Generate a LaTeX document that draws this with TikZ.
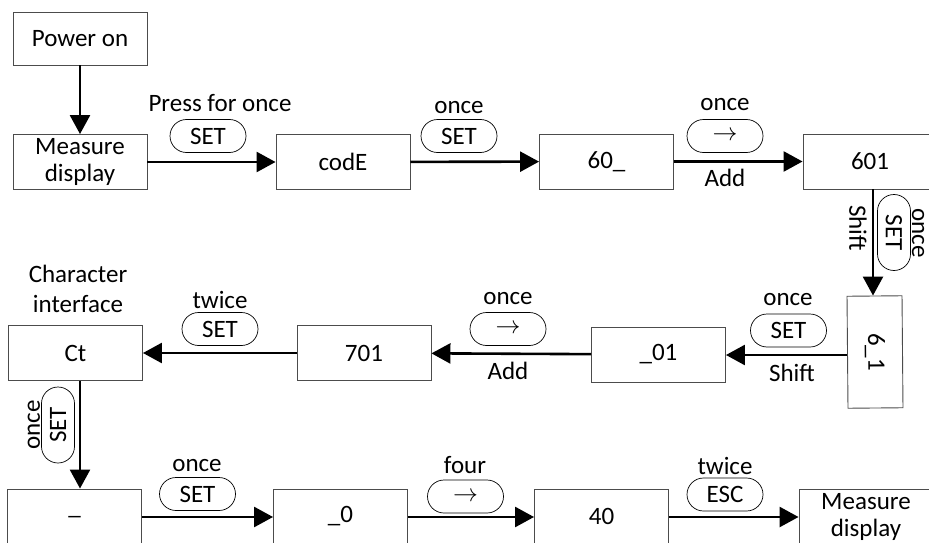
\documentclass[tikz,border=0pt]{standalone}
\usepackage{fontspec}
\setmainfont{Carlito}
\usetikzlibrary{arrows.meta,shapes.misc}
\tikzset{
  fnt/.style={font=\fontsize{25}{28}\selectfont},
  box/.style={fnt, draw=black!70, line width=0.9pt, minimum width=134pt, minimum height=55pt, inner sep=1pt, align=center},
  pill/.style={fnt, draw, line width=0.7pt, rounded rectangle, minimum width=76pt, minimum height=33pt, inner sep=0pt},
  lbl/.style={fnt, inner sep=0pt, align=center},
  arr/.style={line width=2.6pt, -{Triangle[length=19pt,width=20pt]}},
}
\begin{document}
\begin{tikzpicture}[x=1pt,y=-1pt]
\useasboundingbox (0,0) rectangle (929,543);
\clip (0,0) rectangle (929,543);
% boxes
\node[box, minimum height=53pt] (pw) at (80,38.5) {Power on};
\node[box, font=\fontsize{25}{27}\selectfont] (md1) at (80,162) {Measure\\display};
\node[box] (code) at (343,162) {codE};
\node[box] (n60) at (606.5,161.5) {60\_};
\node[box] (n601) at (870,161.5) {601};
\node[box, minimum width=112pt, rotate=-89.5] (n61) at (875,352) {6\_1};
\node[box] (n01) at (658.5,354.5) {\_01};
\node[box] (n701) at (364,353) {701};
\node[box] (ct) at (75.5,353) {Ct};
\node[box] (nu) at (74.5,516.5) {\_};
\node[box] (n0) at (340.5,516.5) {\_0};
\node[box] (n40) at (601.5,516.5) {40};
\node[box, font=\fontsize{25}{27}\selectfont] (md2) at (866,516.5) {Measure\\display};
% connectors
\draw[arr] (pw) -- (md1);
\draw[arr] (md1) -- (code);
\draw[arr] (code) -- (n60);
\draw[arr] (n60) -- (n601);
\draw[arr] (n601.south -| 873,0) -- (n61.west -| 873,0);
\draw[arr] (n61.south |- 0,355) -- (n01.east |- 0,355);
\draw[arr] (n01) -- (n701);
\draw[arr] (n701) -- (ct);
\draw[arr] (ct.south -| 80,0) -- (nu.north -| 80,0);
\draw[arr] (nu.east |- 0,517) -- (n0.west |- 0,517);
\draw[arr] (n0.east |- 0,517) -- (n40.west |- 0,517);
\draw[arr] (n40.east |- 0,517) -- (md2.west |- 0,517);
% labels
\node[lbl] (l1) at (220,103) {Press for once};
\node[pill] (p1) at (208,136) {SET};
\node[lbl] (l2) at (459,108) {once};
\node[pill] (p2) at (459,136) {SET};
\node[lbl] (l3) at (725,105) {once};
\node[pill] (p3) at (725,136) {$\rightarrow$};
\node[lbl] (l3b) at (725,178) {Add};
\node[pill, rotate=-90] (p4) at (894,232.5) {SET};
\node[lbl, rotate=-90] (l4) at (918,233) {once};
\node[lbl, rotate=-90] (l4b) at (858,228) {Shift};
\node[lbl] (l5) at (788,300) {once};
\node[pill] (p5) at (788.5,330.5) {SET};
\node[lbl] (l5b) at (792,373) {Shift};
\node[lbl] (l6) at (508,299) {once};
\node[pill] (p6) at (508,329) {$\rightarrow$};
\node[lbl] (l6b) at (508,371) {Add};
\node[lbl] (l7) at (220,300) {twice};
\node[pill] (p7) at (220,329) {SET};
\node[lbl, font=\fontsize{25}{30}\selectfont] (l8) at (78,289) {Character\\interface};
\node[pill, rotate=90] (p9) at (58,425) {SET};
\node[lbl, rotate=90] (l9) at (34,425) {once};
\node[lbl] (l10) at (197,466) {once};
\node[pill] (p10) at (197.5,494) {SET};
\node[lbl] (l11) at (465,465) {four};
\node[pill] (p11) at (465.5,496.5) {$\rightarrow$};
\node[lbl] (l12) at (725,466) {twice};
\node[pill] (p12) at (725,494.5) {ESC};
\end{tikzpicture}
\end{document}
